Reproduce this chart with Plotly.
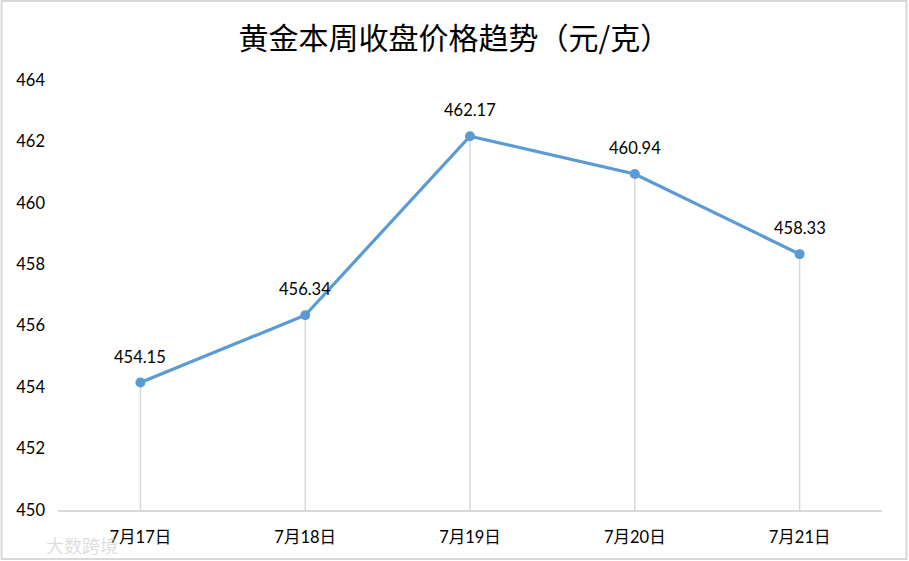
import plotly.graph_objects as go

dates = ["7月17日", "7月18日", "7月19日", "7月20日", "7月21日"]
prices = [454.15, 456.34, 462.17, 460.94, 458.33]
y_ticks = [450, 452, 454, 456, 458, 460, 462, 464]
y_base = 450

font_main = "Lato, 'Noto Sans CJK SC', sans-serif"
font_cjk = "'Noto Sans CJK SC', sans-serif"

fig = go.Figure()

# Drop lines from each point down to the x axis
fig.add_trace(go.Scatter(
    x=dates, y=prices, mode="markers",
    marker=dict(size=1, color="rgba(0,0,0,0)"),
    error_y=dict(type="data", symmetric=False, array=[0] * len(prices),
                 arrayminus=[p - y_base for p in prices],
                 color="#d9d9d9", thickness=1.5, width=0),
    hoverinfo="skip", showlegend=False))

fig.add_trace(go.Scatter(
    x=dates, y=prices, mode="lines+markers",
    line=dict(color="#5b9bd5", width=3.2),
    marker=dict(color="#5b9bd5", size=10),
    showlegend=False))

# Data labels above the points
labels = [dict(x=d, y=p, text=f"{p:.2f}", showarrow=False, yshift=26,
               font=dict(size=16.5, color="#000000", family=font_main))
          for d, p in zip(dates, prices)]

# Watermark
labels.append(dict(text="大数跨境", xref="paper", yref="paper", x=-0.0165, y=-0.081,
                   xanchor="left", yanchor="middle", showarrow=False,
                   font=dict(size=18, color="rgba(200,200,200,0.6)", family=font_cjk)))

fig.update_layout(
    width=909, height=561,
    margin=dict(l=57.5, r=26.5, t=80, b=51),
    paper_bgcolor="white", plot_bgcolor="white",
    title=dict(text="黄金本周收盘价格趋势（元/克）", x=0.5, xanchor="center",
               y=0.932, yanchor="middle",
               font=dict(size=30, color="#000000", family=font_cjk)),
    xaxis=dict(showgrid=False, showline=True, linecolor="#d9d9d9", linewidth=1.5,
               ticks="", ticklabelstandoff=11,
               tickfont=dict(size=16.5, color="#000000", family=font_main),
               range=[-0.5, 4.5]),
    yaxis=dict(range=[450, 464], tickvals=y_ticks, showgrid=False, zeroline=False,
               showline=False, ticks="", ticklabelstandoff=12,
               tickfont=dict(size=16.5, color="#000000", family=font_main)),
    shapes=[dict(type="rect", xref="paper", yref="paper", x0=-0.0685, x1=1.0297,
                 y0=-0.114, y1=1.1837, line=dict(color="#d9d9d9", width=2))],
    annotations=labels,
)

fig.write_html("out.html", config={"displayModeBar": False},
               post_script="document.body.style.margin='0';")
